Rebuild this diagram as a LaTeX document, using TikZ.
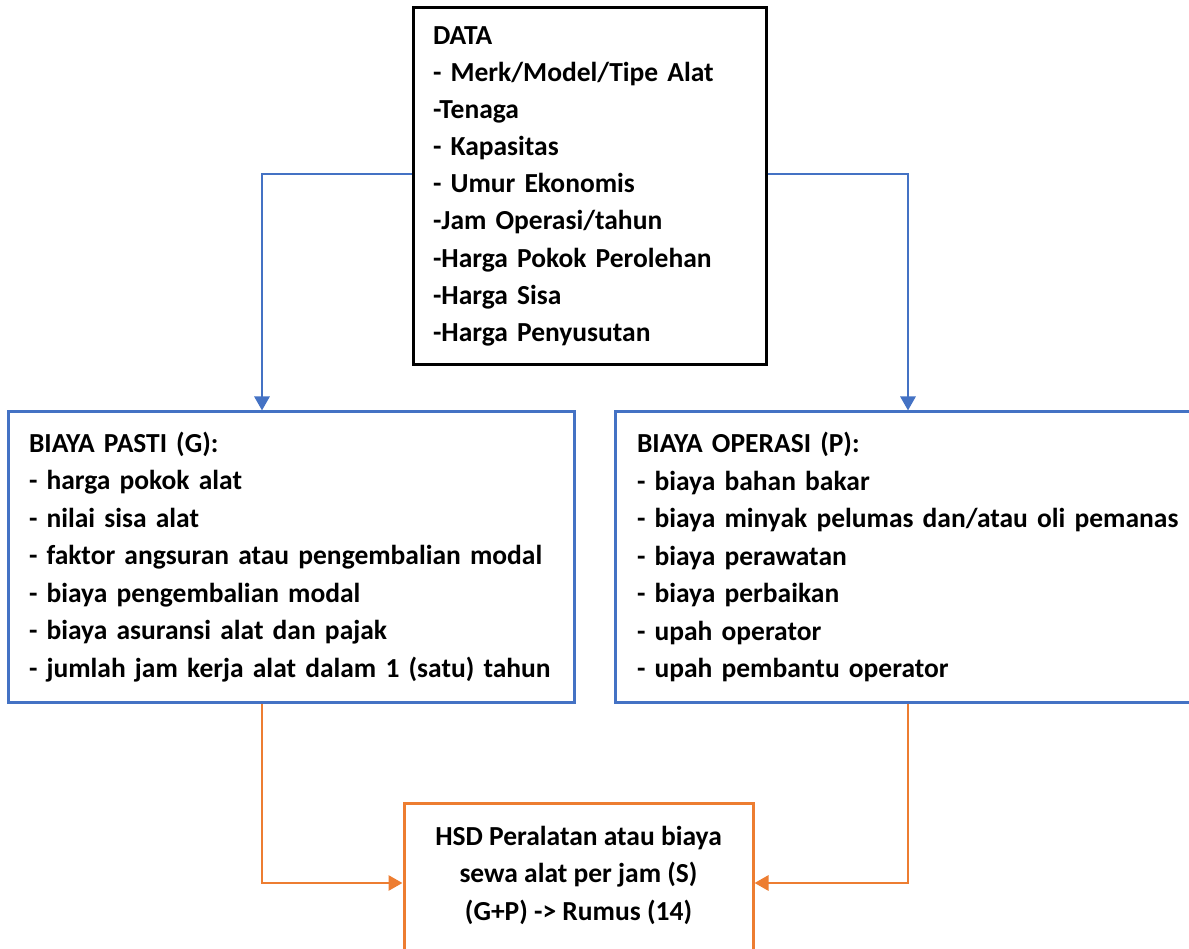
\documentclass[tikz,border=0pt]{standalone}
\usepackage{fontspec}
\setmainfont{Carlito}
\usetikzlibrary{arrows.meta}

\definecolor{boxblue}{HTML}{4472C4}
\definecolor{boxorange}{HTML}{ED7D31}

\begin{document}
\begin{tikzpicture}[x=1pt,y=-1pt,>={Triangle[length=14pt,width=15pt]},
  every node/.style={font=\fontsize{27.5}{37.5}\selectfont\bfseries},
  data node/.style={rectangle,draw=black,line width=3pt,inner xsep=20pt,align=left},
  cost node/.style={rectangle,draw=boxblue,line width=3pt,inner xsep=21pt,align=left},
  result node/.style={rectangle,draw=boxorange,line width=3pt},
  blue flow/.style={->,draw=boxblue,line width=2.8pt},
  orange flow/.style={->,draw=boxorange,line width=2.8pt}]

  \useasboundingbox (0,0) rectangle (1189,949);

  \node[data node,minimum width=353pt,minimum height=357pt,text width=313pt] (data) at (589.5,186.5)
    {\fontsize{27.5}{37.1}\selectfont DATA\\- Merk/Model/Tipe Alat\\-Tenaga\\- Kapasitas\\- Umur Ekonomis\\-Jam Operasi/tahun\\-Harga Pokok Perolehan\\-Harga Sisa\\-Harga Penyusutan};
  \node[cost node,minimum width=566pt,minimum height=290pt,text width=524pt] (pasti) at (291,557)
    {BIAYA PASTI (G):\\- harga pokok alat\\- nilai sisa alat\\- faktor angsuran atau pengembalian modal\\- biaya pengembalian modal\\- biaya asuransi alat dan pajak\\- jumlah jam kerja alat dalam 1 (satu) tahun};
  \node[cost node,minimum width=600pt,minimum height=290pt,text width=556pt] (operasi) at (915,557)
    {BIAYA OPERASI (P):\\- biaya bahan bakar\\- biaya minyak pelumas dan/atau oli pemanas\\- biaya perawatan\\- biaya perbaikan\\- upah operator\\- upah pembantu operator};
  \node[result node,minimum width=349pt,minimum height=177pt] (hsd) at (578.5,891.5) {};
  \node[align=center] (hsdtext) at (578.5,875)
    {HSD Peralatan atau biaya\\sewa alat per jam (S)\\(G+P) -> Rumus (14)};

  \draw[blue flow] (data.west |- 0,174) -| (pasti.north -| 262,0);
  \draw[blue flow] (data.east |- 0,174) -| (operasi.north -| 908,0);
  \draw[orange flow] (pasti.south -| 262,0) |- (hsd.west |- 0,883);
  \draw[orange flow] (operasi.south -| 908,0) |- (hsd.east |- 0,883);

\end{tikzpicture}
\end{document}
